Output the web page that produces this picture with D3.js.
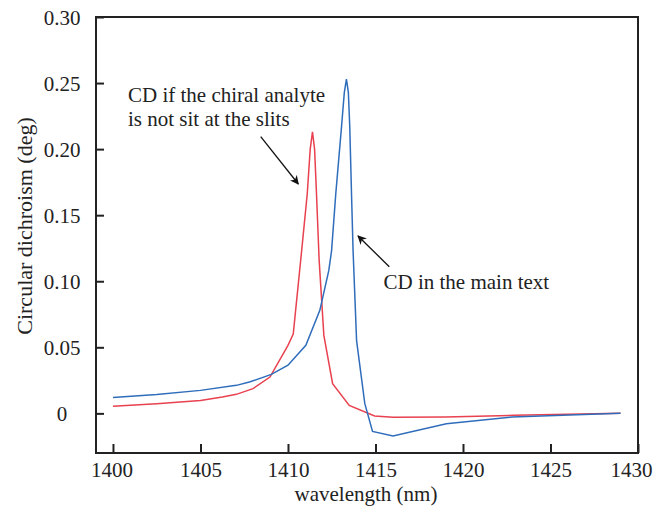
<!DOCTYPE html>
<html>
<head>
<meta charset="utf-8">
<script src="https://cdn.jsdelivr.net/npm/d3@7"></script>
<style>
  html, body { margin: 0; padding: 0; background: #fff; }
  svg { display: block; }
  text { font-family: "Times New Roman", Times, "Liberation Serif", "DejaVu Serif", serif; fill: #222; }
</style>
</head>
<body>
<svg id="chart" width="658" height="510"></svg>
<script>
// Data
const mainWl = [1400, 1402.5, 1405.0, 1407.05, 1407.8, 1409.05, 1410.0, 1411.02, 1411.82, 1412.33, 1412.49, 1412.73, 1413.06, 1413.22, 1413.34, 1413.45, 1413.53, 1413.63, 1413.72, 1413.92, 1414.39, 1414.83, 1416.0, 1419.05, 1422.8, 1429];
const mainCD = [0.012, 0.0142, 0.0174, 0.0212, 0.0237, 0.0295, 0.0364, 0.0515, 0.078, 0.108, 0.123, 0.166, 0.217, 0.243, 0.253, 0.243, 0.217, 0.166, 0.123, 0.055, 0.0073, -0.0137, -0.0172, -0.0078, -0.0028, 0.0];
const offWl = [1400, 1402.5, 1405.0, 1406.25, 1407.05, 1408.0, 1408.97, 1410.0, 1410.3, 1410.78, 1411.1, 1411.27, 1411.4, 1411.52, 1411.63, 1411.78, 1412.05, 1412.55, 1413.5, 1414.95, 1416, 1419, 1422.9, 1429];
const offCD = [0.0053, 0.0072, 0.0098, 0.0124, 0.0144, 0.0187, 0.0275, 0.0515, 0.060, 0.123, 0.166, 0.200, 0.213, 0.200, 0.166, 0.116, 0.059, 0.0225, 0.006, -0.002, -0.003, -0.0028, -0.0015, 0.0];
const xTicks = [1400, 1405, 1410, 1415, 1420, 1425, 1430];
const yTicks = [0, 0.05, 0.10, 0.15, 0.20, 0.25, 0.30];
const xLabel = "wavelength (nm)";
const yLabel = "Circular dichroism (deg)";
const note1 = ["CD if the chiral analyte", "is not sit at the slits"];
const note2 = "CD in the main text";

const FONT = '"Times New Roman", Times, "Liberation Serif", "DejaVu Serif", serif';
const svg = d3.select("#chart");
const L = 96, R = 638, T = 17, B = 453;
const x = d3.scaleLinear().domain([1399.03, 1430]).range([L, R]);
const y = d3.scaleLinear().domain([-0.03, 0.30]).range([B, T]);
const axisColor = "#222";

// frame
svg.append("rect").attr("x", L).attr("y", T).attr("width", R - L).attr("height", B - T)
  .attr("fill", "none").attr("stroke", axisColor).attr("stroke-width", 2);

// x axis (inward ticks)
const gx = svg.append("g").attr("transform", `translate(0,${B})`)
  .call(d3.axisBottom(x).tickValues(xTicks).tickSize(-9).tickPadding(9).tickFormat(d3.format("d")));
gx.attr("font-family", FONT);
gx.select(".domain").remove();
gx.selectAll(".tick line").attr("stroke", axisColor).attr("stroke-width", 2);
gx.selectAll(".tick text").attr("font-size", 21).attr("fill", "#222")
  .attr("dx", d => d === 1430 ? -7 : (d === 1400 ? -1.5 : 0));

// y axis (inward ticks)
const gy = svg.append("g").attr("transform", `translate(${L},0)`)
  .call(d3.axisLeft(y).tickValues(yTicks).tickSize(-8)
    .tickFormat(d => d === 0 ? "0" : d3.format(".2f")(d)));
gy.attr("font-family", FONT);
gy.select(".domain").remove();
gy.selectAll(".tick line").attr("stroke", axisColor).attr("stroke-width", 2);
gy.selectAll(".tick text").attr("font-size", 21).attr("fill", "#222")
  .attr("text-anchor", "middle").attr("x", 62 - L).attr("dy", "0.35em");

// labels
svg.append("text").attr("x", 366).attr("y", 501).attr("text-anchor", "middle")
  .attr("font-size", 21).text(xLabel);
svg.append("text").attr("transform", `translate(32,226) rotate(-90)`).attr("text-anchor", "middle")
  .attr("font-size", 22).text(yLabel);

// lines
const line = d3.line().x(d => x(d[0])).y(d => y(d[1]));
svg.append("path").datum(offWl.map((w, i) => [w, offCD[i]]))
  .attr("d", line).attr("fill", "none").attr("stroke", "#e8414f").attr("stroke-width", 1.5);
svg.append("path").datum(mainWl.map((w, i) => [w, mainCD[i]]))
  .attr("d", line).attr("fill", "none").attr("stroke", "#2f6dbb").attr("stroke-width", 1.5);

// annotations
svg.append("defs").append("marker").attr("id", "ah").attr("viewBox", "0 0 10 10")
  .attr("refX", 9).attr("refY", 5).attr("markerWidth", 9).attr("markerHeight", 9)
  .attr("markerUnits", "userSpaceOnUse").attr("orient", "auto")
  .append("path").attr("d", "M0,0 L10,5 L0,10 L3,5 Z").attr("fill", "#111");

note1.forEach((t, i) => {
  svg.append("text").attr("x", 128).attr("y", 102 + i * 23.5).attr("font-size", 21).text(t);
});
svg.append("line").attr("x1", 260.7).attr("y1", 136.7).attr("x2", 298.3).attr("y2", 184)
  .attr("stroke", "#111").attr("stroke-width", 1.3).attr("marker-end", "url(#ah)");
svg.append("text").attr("x", 383.5).attr("y", 288.5).attr("font-size", 21).text(note2);
svg.append("line").attr("x1", 389.3).attr("y1", 266.7).attr("x2", 358).attr("y2", 236)
  .attr("stroke", "#111").attr("stroke-width", 1.3).attr("marker-end", "url(#ah)");
</script>
</body>
</html>
